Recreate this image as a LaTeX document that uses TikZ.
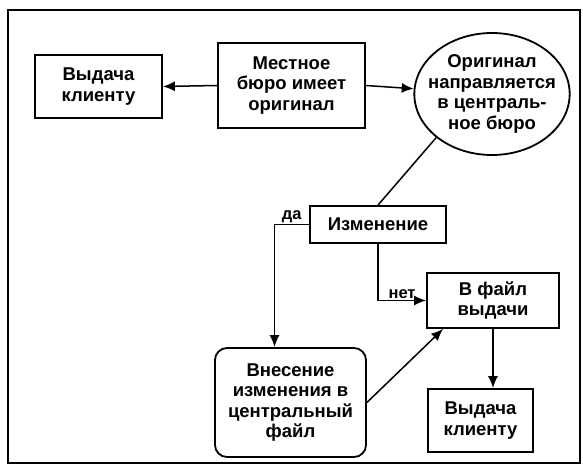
\documentclass[tikz,border=0pt]{standalone}
\usepackage{fontspec}
\setmainfont{Liberation Sans}
\usetikzlibrary{arrows.meta,shapes.geometric}
\tikzset{
	blok/.style={draw, line width=1.8, align=center, inner sep=0pt, font=\fontsize{18.5}{20.5}\selectfont\bfseries},
	otmetka/.style={font=\fontsize{16.5}{18}\selectfont\bfseries, inner sep=1pt},
	svyaz/.style={line width=1.5}
}
\begin{document}
\begin{tikzpicture}[x=1pt,y=-1pt,>={Latex[length=12pt,width=10pt]}]
	\useasboundingbox (0,0) rectangle (583,470);
	% Frame
	\draw [line width=2] (8,10) rectangle (580,463);
	% Blocks
	\node [blok, minimum width=127, minimum height=63] (vydacha) at (98.5,86.5) {Выдача\\клиенту};
	\node [blok, minimum width=147, minimum height=85] (mestnoe) at (291.5,85.5) {Местное\\бюро имеет\\оригинал};
	\node [blok, ellipse, inner xsep=-9pt, minimum width=148, minimum height=122] (original) at (492,94) {Оригинал\\направляется\\в централь-\\ное бюро};
	\node [blok, minimum width=136, minimum height=37] (izmenenie) at (378,224.5) {Изменение};
	\node [blok, minimum width=132, minimum height=55] (vfail) at (493,300.5) {В файл\\выдачи};
	\node [blok, rounded corners=12pt, minimum width=151, minimum height=109] (vnesenie) at (290.5,402.5) {Внесение\\изменения в\\центральный\\файл};
	\node [blok, minimum width=105, minimum height=63] (vydachaB) at (480.5,420.5) {Выдача\\клиенту};
	% Connectors
	\draw [svyaz,arrows=->] (mestnoe.west) -- (vydacha.east);
	\draw [svyaz,arrows=->] (mestnoe.east) -- (original);
	\draw [svyaz] (original.218) -- (izmenenie.north);
	\draw [svyaz,arrows=->] (izmenenie.west) -| node [otmetka, pos=0.25, above] (da) {да} ([xshift=-16pt]vnesenie.north);
	\draw [svyaz,arrows=->] (izmenenie.south) |- node [otmetka, pos=0.75, above] (net) {нет} (vfail.west);
	\draw [svyaz,arrows=->] (vnesenie.east) -- ([xshift=17pt]vfail.south west);
	\draw [svyaz,arrows=->] (vfail.south) -- (vfail.south |- vydachaB.north);
\end{tikzpicture}
\end{document}
